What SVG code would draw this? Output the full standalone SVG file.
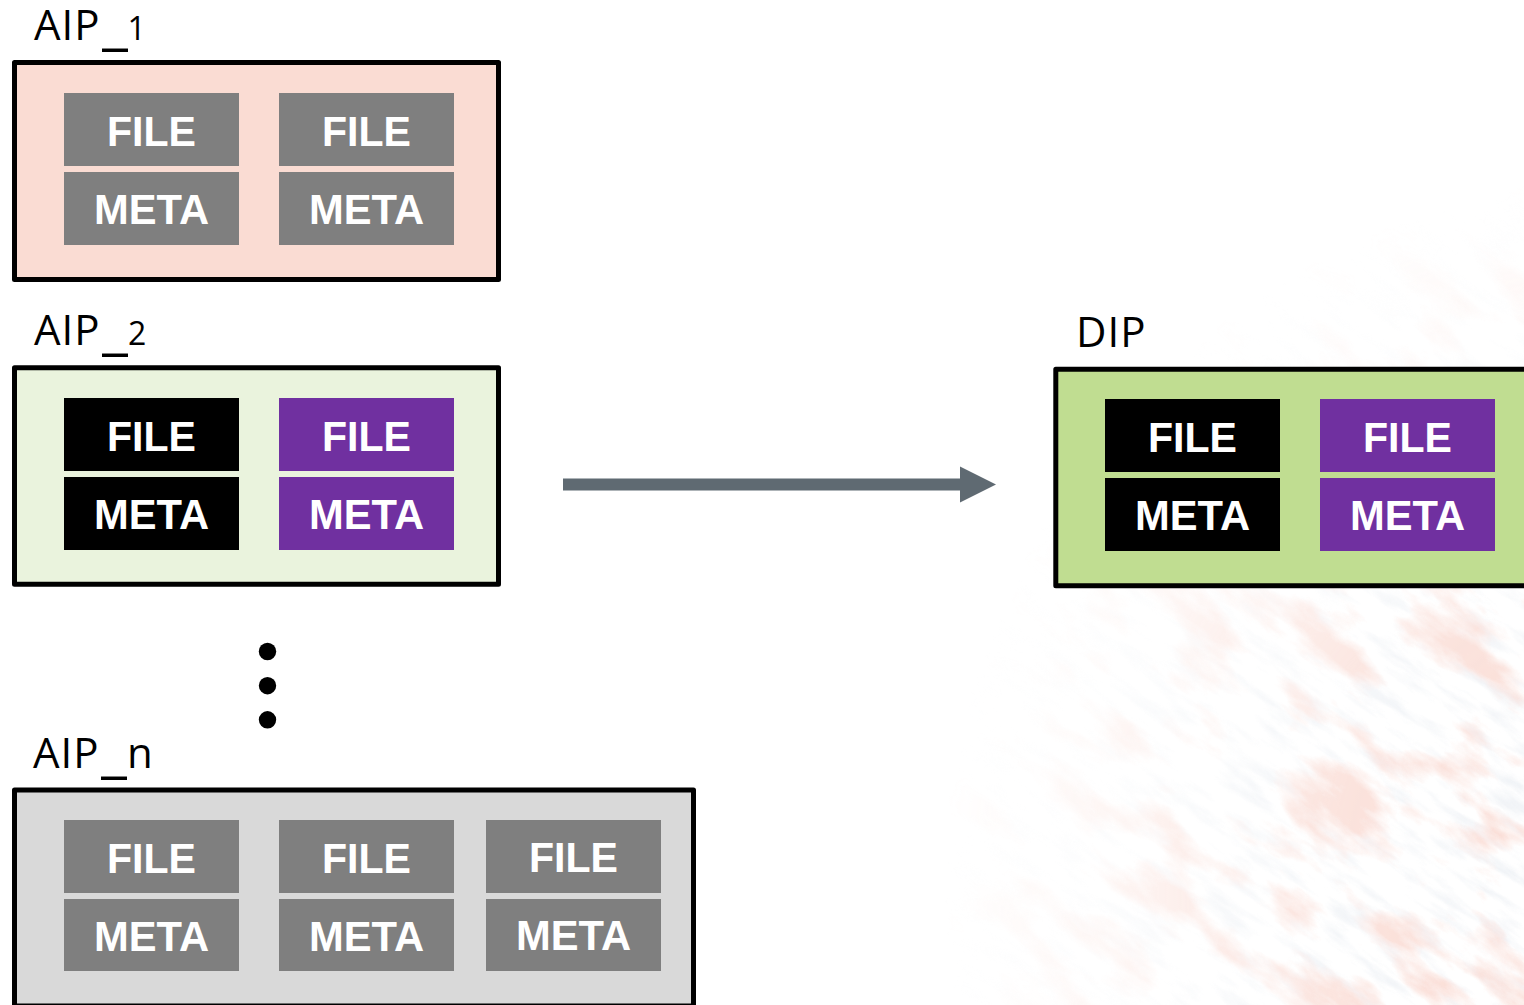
<svg xmlns="http://www.w3.org/2000/svg" width="1524" height="1005" viewBox="0 0 1524 1005">
  <style>
    .pkg { stroke: #000; stroke-width: 5; stroke-linejoin: round; }
    .cell-grey { fill: #7F7F7F; }
    .cell-black { fill: #000; }
    .cell-purple { fill: #7030A0; }
    .tag { font-family: "Liberation Sans", Arial, sans-serif; font-weight: bold; font-size: 43px; fill: #fff; text-anchor: middle; }
    .title { font-family: "Open Sans", "Noto Sans", sans-serif; font-size: 42px; fill: #000; }
    .num { font-size: 32px; }
    .us { font-family: "DejaVu Sans", sans-serif; font-size: 50px; letter-spacing: 0; }
  </style>
  <defs>
    <!-- faint speckled map texture in the lower right corner -->
    <filter id="speckle" x="0" y="0" width="1" height="1" filterUnits="objectBoundingBox">
      <feTurbulence type="fractalNoise" baseFrequency="0.009 0.024" numOctaves="6" seed="3" result="noise"/>
      <feColorMatrix in="noise" type="matrix" values="0 0 0 0 0.92  0 0 0 0 0.52  0 0 0 0 0.44  4.2 0 0 0 -2.1" result="red"/>
      <feTurbulence type="fractalNoise" baseFrequency="0.018 0.07" numOctaves="5" seed="11" result="n2"/>
      <feColorMatrix in="n2" type="matrix" values="0 0 0 0 0.78  0 0 0 0 0.82  0 0 0 0 0.87  3 0 0 0 -1.45" result="grey"/>
      <feMerge><feMergeNode in="grey"/><feMergeNode in="red"/></feMerge>
    </filter>
    <radialGradient id="fade" cx="1660" cy="890" r="720" gradientUnits="userSpaceOnUse">
      <stop offset="0" stop-color="#fff"/>
      <stop offset="0.45" stop-color="#bbb"/>
      <stop offset="0.8" stop-color="#333"/>
      <stop offset="1" stop-color="#000"/>
    </radialGradient>
    <mask id="hazeMask" maskUnits="userSpaceOnUse" x="0" y="0" width="1524" height="1005">
      <rect x="0" y="0" width="1524" height="1005" fill="url(#fade)"/>
    </mask>
  </defs>

  <rect x="0" y="0" width="1524" height="1005" fill="#fff"/>

  <g id="backdrop" mask="url(#hazeMask)" opacity="0.6">
    <g transform="rotate(35 1300 700)">
      <rect x="600" y="-200" width="1500" height="1700" filter="url(#speckle)"/>
    </g>
  </g>

  <!-- AIP_1 -->
  <g id="aip1">
    <text class="title" x="34" y="40" letter-spacing="1">AIP<tspan class="us" x="102.5">_</tspan><tspan class="num" x="127.5">1</tspan></text>
    <rect class="pkg" x="14.5" y="62.5" width="484" height="217" fill="#FADCD3"/>
    <rect class="cell-grey" x="64" y="93" width="175" height="73"/>
    <rect class="cell-grey" x="64" y="172" width="175" height="73"/>
    <rect class="cell-grey" x="279" y="93" width="175" height="73"/>
    <rect class="cell-grey" x="279" y="172" width="175" height="73"/>
    <text class="tag" x="151.5" y="146" textLength="89" lengthAdjust="spacingAndGlyphs">FILE</text>
    <text class="tag" x="151.5" y="224" textLength="115" lengthAdjust="spacingAndGlyphs">META</text>
    <text class="tag" x="366.5" y="146" textLength="89" lengthAdjust="spacingAndGlyphs">FILE</text>
    <text class="tag" x="366.5" y="224" textLength="115" lengthAdjust="spacingAndGlyphs">META</text>
  </g>

  <!-- AIP_2 -->
  <g id="aip2">
    <text class="title" x="34" y="345" letter-spacing="1">AIP<tspan class="us" x="102.5">_</tspan><tspan class="num" x="128">2</tspan></text>
    <rect class="pkg" x="14.5" y="367.8" width="484" height="216.4" fill="#EAF3DD"/>
    <rect class="cell-black" x="64" y="398" width="175" height="73"/>
    <rect class="cell-black" x="64" y="477" width="175" height="73"/>
    <rect class="cell-purple" x="279" y="398" width="175" height="73"/>
    <rect class="cell-purple" x="279" y="477" width="175" height="73"/>
    <text class="tag" x="151.5" y="451" textLength="89" lengthAdjust="spacingAndGlyphs">FILE</text>
    <text class="tag" x="151.5" y="529" textLength="115" lengthAdjust="spacingAndGlyphs">META</text>
    <text class="tag" x="366.5" y="451" textLength="89" lengthAdjust="spacingAndGlyphs">FILE</text>
    <text class="tag" x="366.5" y="529" textLength="115" lengthAdjust="spacingAndGlyphs">META</text>
  </g>

  <!-- continuation dots -->
  <g id="ellipsis" fill="#000">
    <circle cx="267.5" cy="651.5" r="8.7"/>
    <circle cx="267.5" cy="685.7" r="8.7"/>
    <circle cx="267.5" cy="719.8" r="8.7"/>
  </g>

  <!-- AIP_n -->
  <g id="aipn">
    <text class="title" x="33" y="767.5" letter-spacing="1">AIP<tspan class="us" x="101.5">_</tspan><tspan x="127">n</tspan></text>
    <rect class="pkg" x="14.5" y="790" width="679" height="216" fill="#D9D9D9"/>
    <rect class="cell-grey" x="64" y="820" width="175" height="73"/>
    <rect class="cell-grey" x="64" y="899" width="175" height="72"/>
    <rect class="cell-grey" x="279" y="820" width="175" height="73"/>
    <rect class="cell-grey" x="279" y="899" width="175" height="72"/>
    <rect class="cell-grey" x="486" y="820" width="175" height="73"/>
    <rect class="cell-grey" x="486" y="899" width="175" height="72"/>
    <text class="tag" x="151.5" y="873" textLength="89" lengthAdjust="spacingAndGlyphs">FILE</text>
    <text class="tag" x="151.5" y="951" textLength="115" lengthAdjust="spacingAndGlyphs">META</text>
    <text class="tag" x="366.5" y="873" textLength="89" lengthAdjust="spacingAndGlyphs">FILE</text>
    <text class="tag" x="366.5" y="951" textLength="115" lengthAdjust="spacingAndGlyphs">META</text>
    <text class="tag" x="573.5" y="872" textLength="89" lengthAdjust="spacingAndGlyphs">FILE</text>
    <text class="tag" x="573.5" y="950" textLength="115" lengthAdjust="spacingAndGlyphs">META</text>
  </g>

  <!-- DIP -->
  <g id="dip">
    <text class="title" x="1076" y="346.5" letter-spacing="1">DIP</text>
    <rect class="pkg" x="1055.8" y="369.2" width="490" height="216.6" fill="#C0DD91"/>
    <rect class="cell-black" x="1105" y="399" width="175" height="73"/>
    <rect class="cell-black" x="1105" y="478" width="175" height="73"/>
    <rect class="cell-purple" x="1320" y="399" width="175" height="73"/>
    <rect class="cell-purple" x="1320" y="478" width="175" height="73"/>
    <text class="tag" x="1192.5" y="452" textLength="89" lengthAdjust="spacingAndGlyphs">FILE</text>
    <text class="tag" x="1192.5" y="530" textLength="115" lengthAdjust="spacingAndGlyphs">META</text>
    <text class="tag" x="1407.5" y="452" textLength="89" lengthAdjust="spacingAndGlyphs">FILE</text>
    <text class="tag" x="1407.5" y="530" textLength="115" lengthAdjust="spacingAndGlyphs">META</text>
  </g>

  <!-- connectors -->
  <g id="connectors" fill="#5F6A72">
    <path d="M563 478.5 H960 V466.5 L996 484.5 L960 502.5 V490.5 H563 Z"/>
  </g>
</svg>
